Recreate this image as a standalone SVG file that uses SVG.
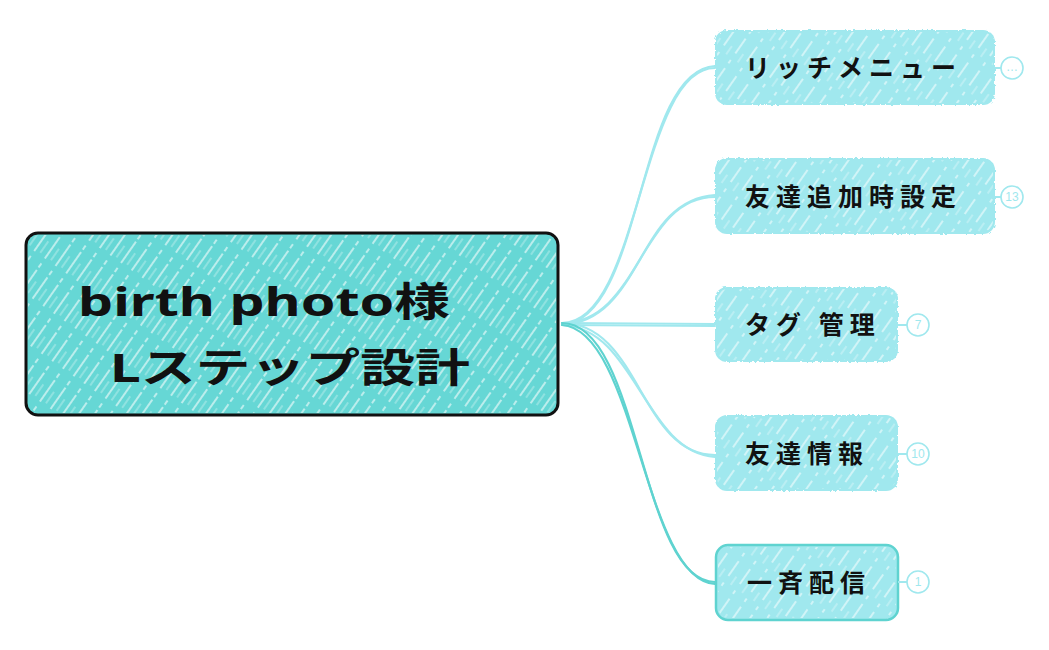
<svg xmlns="http://www.w3.org/2000/svg" width="1049" height="650" viewBox="0 0 1049 650">
<defs>
<pattern id="hatchC" width="13" height="40" patternUnits="userSpaceOnUse" patternTransform="rotate(35)">
<line x1="3" y1="0" x2="3" y2="40" stroke="#ffffff" stroke-width="1.3" stroke-dasharray="26 6 5 3" opacity="0.85"/>
<line x1="9" y1="10" x2="9" y2="50" stroke="#ffffff" stroke-width="0.9" stroke-dasharray="14 26" opacity="0.6"/>
</pattern>
<pattern id="hatchL" width="14" height="36" patternUnits="userSpaceOnUse" patternTransform="rotate(35)">
<line x1="3" y1="0" x2="3" y2="36" stroke="#ffffff" stroke-width="1.2" stroke-dasharray="18 8 4 6" opacity="0.85"/>
<line x1="10" y1="14" x2="10" y2="36" stroke="#ffffff" stroke-width="0.9" stroke-dasharray="10 26" opacity="0.6"/>
</pattern>
<filter id="rough" x="-5%" y="-5%" width="110%" height="110%">
<feTurbulence type="fractalNoise" baseFrequency="0.35" numOctaves="2" seed="3"/>
<feDisplacementMap in="SourceGraphic" scale="3"/>
</filter>
<style>
.lbl{font-family:"Noto Sans CJK JP","Noto Sans",sans-serif;font-weight:700;font-size:25px;fill:#111;letter-spacing:6px}
.title{font-family:"Noto Sans","Noto Sans CJK JP",sans-serif;font-weight:700;font-size:40px;fill:#111}
.conn{fill:none;stroke:#A0E8EE;stroke-width:2.2;stroke-linecap:round}
.connD{fill:none;stroke:#5FD3D0;stroke-width:2.2;stroke-linecap:round}
.badge{fill:#fff;stroke:#A0E8EE;stroke-width:1.6}
.btxt{font-family:"Liberation Sans",sans-serif;font-size:12px;fill:#A0E8EE;text-anchor:middle}
.stub{stroke:#A0E8EE;stroke-width:2}
.nodebg{fill:#A0E8EE}
.hatch{fill:url(#hatchL)}
</style>
</defs>

<g id="connectors">
<path class="conn" d="M562 323 C640 323 640 68 715 68"/>
<path class="conn" d="M562 325 C644 320 636 70 715 66"/>
<path class="conn" d="M562 323 C640 323 640 197 715 197"/>
<path class="conn" d="M562 325 C644 320 636 200 715 195"/>
<path class="conn" d="M562 323 L715 324"/>
<path class="conn" d="M562 325 L715 326"/>
<path class="conn" d="M562 323 C640 323 640 455 715 455"/>
<path class="conn" d="M562 325 C636 328 644 452 715 457"/>
<path class="connD" d="M562 323 C640 323 640 582 715 582"/>
<path class="connD" d="M562 325 C636 330 644 580 715 584"/>
</g>

<g id="root">
<rect x="26" y="233" width="532" height="182" rx="12" fill="#66D7D5" filter="url(#rough)"/>
<rect x="28" y="235" width="528" height="178" rx="11" fill="url(#hatchC)"/>
<rect x="26" y="233" width="532" height="182" rx="12" fill="none" stroke="#111" stroke-width="3"/>
<text class="title" x="78" y="316" textLength="372" lengthAdjust="spacingAndGlyphs">birth photo様</text>
<text class="title" x="110" y="382" textLength="360" lengthAdjust="spacingAndGlyphs">Lステップ設計</text>
</g>

<g id="n1">
<rect class="nodebg" x="715" y="30" width="280" height="75" rx="12" filter="url(#rough)"/>
<rect class="hatch" x="717" y="32" width="276" height="71" rx="11"/>
<text class="lbl" x="745" y="77">リッチメニュー</text>
<line class="stub" x1="995" y1="68" x2="1001" y2="68"/>
<circle class="badge" cx="1012" cy="68" r="11"/>
<text class="btxt" x="1012" y="71">…</text>
</g>

<g id="n2">
<rect class="nodebg" x="715" y="158" width="280" height="76" rx="12" filter="url(#rough)"/>
<rect class="hatch" x="717" y="160" width="276" height="72" rx="11"/>
<text class="lbl" x="745" y="206">友達追加時設定</text>
<line class="stub" x1="995" y1="197" x2="1001" y2="197"/>
<circle class="badge" cx="1012" cy="197" r="11"/>
<text class="btxt" x="1012" y="201">13</text>
</g>

<g id="n3">
<rect class="nodebg" x="715" y="287" width="183" height="75" rx="12" filter="url(#rough)"/>
<rect class="hatch" x="717" y="289" width="179" height="71" rx="11"/>
<text class="lbl" x="745" y="334">タグ 管理</text>
<line class="stub" x1="898" y1="325" x2="907" y2="325"/>
<circle class="badge" cx="918" cy="325" r="11"/>
<text class="btxt" x="918" y="329">7</text>
</g>

<g id="n4">
<rect class="nodebg" x="715" y="415" width="183" height="76" rx="12" filter="url(#rough)"/>
<rect class="hatch" x="717" y="417" width="179" height="72" rx="11"/>
<text class="lbl" x="745" y="463">友達情報</text>
<line class="stub" x1="898" y1="454" x2="907" y2="454"/>
<circle class="badge" cx="918" cy="454" r="11"/>
<text class="btxt" x="918" y="458">10</text>
</g>

<g id="n5">
<rect class="nodebg" x="716" y="545" width="182" height="75" rx="12" filter="url(#rough)"/>
<rect class="hatch" x="718" y="547" width="178" height="71" rx="11"/>
<rect x="716" y="545" width="182" height="75" rx="12" fill="none" stroke="#5FD3D0" stroke-width="2.5"/>
<text class="lbl" x="747" y="592">一斉配信</text>
<line class="stub" x1="898" y1="582" x2="907" y2="582"/>
<circle class="badge" cx="918" cy="582" r="11"/>
<text class="btxt" x="918" y="586">1</text>
</g>
</svg>
